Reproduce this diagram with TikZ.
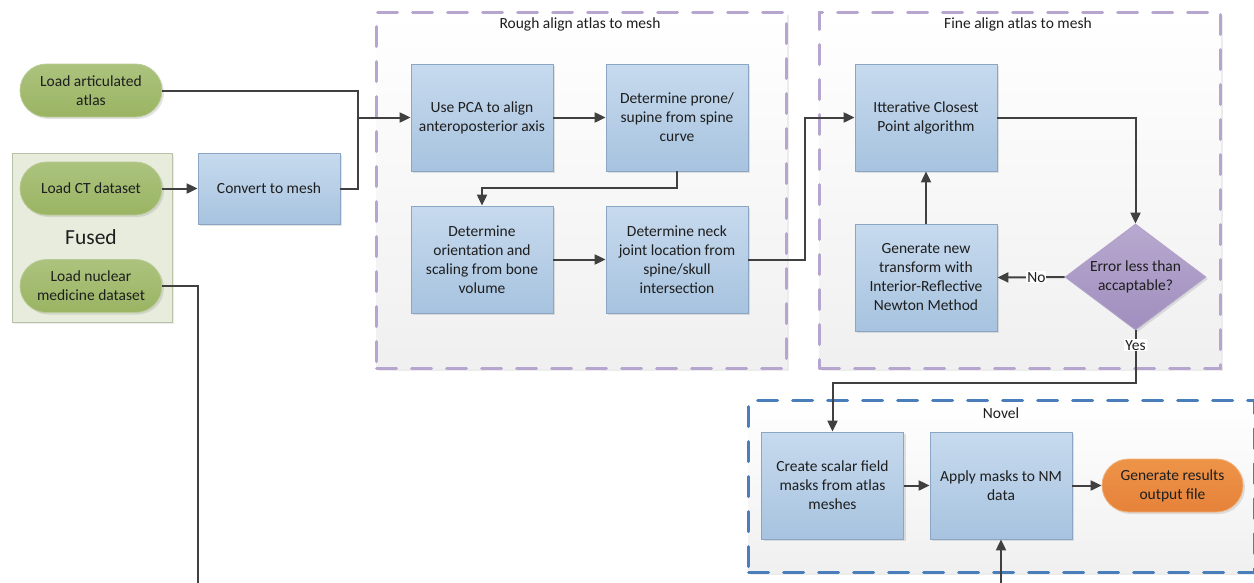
\documentclass[tikz,border=0pt]{standalone}
\usepackage{fontspec}
\setmainfont{Carlito}
\usetikzlibrary{shapes.geometric,shadows,arrows.meta}
\definecolor{lineC}{HTML}{404040}
\definecolor{txtC}{HTML}{1E1E1E}
\definecolor{blueT}{HTML}{C7DAEE}
\definecolor{blueB}{HTML}{A7C3DF}
\definecolor{blueD}{HTML}{8AA6C4}
\definecolor{greenT}{HTML}{ABC37D}
\definecolor{greenB}{HTML}{9AB463}
\definecolor{greenD}{HTML}{B9CB95}
\definecolor{orangeT}{HTML}{ED9448}
\definecolor{orangeB}{HTML}{E6823A}
\definecolor{orangeD}{HTML}{F2B27A}
\definecolor{purpT}{HTML}{B7A9CF}
\definecolor{purpB}{HTML}{A08EBE}
\definecolor{purpD}{HTML}{B3A2CB}
\definecolor{dashP}{HTML}{B6A6CF}
\definecolor{novelD}{HTML}{4A7EBB}
\definecolor{fusedF}{HTML}{E8ECDD}
\definecolor{fusedD}{HTML}{B9C2A6}
\begin{document}
\begin{tikzpicture}[x=1pt,y=-1pt,
  every node/.style={font=\fontsize{15.5}{19}\selectfont, text=txtC},
  shade/.style={drop shadow={opacity=0.22,shadow xshift=2pt,shadow yshift=-2pt}},
  procbox/.style={draw=blueD, line width=0.8pt, top color=blueT, bottom color=blueB,
    minimum width=142pt, minimum height=107pt, inner sep=0pt, align=center, shade},
  termG/.style={draw=greenD, line width=0.8pt, top color=greenT, bottom color=greenB,
    rounded corners=26.5pt, minimum width=142pt, minimum height=53pt, inner sep=0pt, align=center, shade},
  termO/.style={draw=orangeD, line width=0.8pt, top color=orangeT, bottom color=orangeB,
    rounded corners=26.5pt, minimum width=141pt, minimum height=53pt, inner sep=0pt, align=center, shade},
  diam/.style={diamond, draw=purpD, line width=0.8pt, top color=purpT, bottom color=purpB,
    minimum width=141pt, minimum height=106pt, inner sep=0pt, aspect=1.33, shade},
  grp/.style={line width=3pt, line cap=round, dash pattern=on 20pt off 15pt, top color=white, bottom color=black!6,
    anchor=north west, inner sep=0pt, drop shadow={opacity=0.15,shadow xshift=2pt,shadow yshift=-2pt}},
  gtitle/.style={font=\fontsize{15.5}{19}\selectfont},
  conn/.style={draw=lineC, line width=2pt, -{Triangle[length=11pt,width=10pt]}},
  plain/.style={draw=lineC, line width=2pt},
  lbl/.style={fill=white, inner sep=1pt, font=\fontsize{15.5}{19}\selectfont}
]
\useasboundingbox (0,0) rectangle (1254,582);
\clip (0,0) rectangle (1254,582);

% group backgrounds
\node[grp, draw=dashP, minimum width=410pt, minimum height=356pt] (rough) at (375,11) {};
\node[grp, draw=dashP, minimum width=401pt, minimum height=356pt] (fine) at (818,11) {};
\node[grp, draw=novelD, minimum width=506pt, minimum height=172pt] (novel) at (747,399) {};
\node[draw=fusedD, fill=fusedF, line width=0.8pt, anchor=north west, inner sep=0pt,
  minimum width=160pt, minimum height=169pt, drop shadow={opacity=0.15,shadow xshift=2pt,shadow yshift=-2pt}] (fused) at (12,153) {};

\node[gtitle] (roughT) at (580,24) {Rough align atlas to mesh};
\node[gtitle] (fineT) at (1018,24) {Fine align atlas to mesh};
\node[gtitle] (novelT) at (1001,413) {Novel};
\node[font=\fontsize{21.5}{24}\selectfont] (fusedT) at (91,237) {Fused};

% nodes
\node[termG] (atlas) at (91,90.5) {Load articulated\\atlas};
\node[termG] (ct) at (91,188.5) {Load CT dataset};
\node[termG] (nuc) at (91,286) {Load nuclear\\medicine dataset};
\node[procbox, minimum height=71pt] (conv) at (269,188.5) {Convert to mesh};

\node[procbox] (pca) at (482,117.5) {Use PCA to align\\anteroposterior axis};
\node[procbox] (prone) at (677,117.5) {Determine prone/\\supine from spine\\curve};
\node[procbox] (orient) at (482,259.5) {Determine\\orientation and\\scaling from bone\\volume};
\node[procbox] (neck) at (677,259.5) {Determine neck\\joint location from\\spine/skull\\intersection};

\node[procbox] (icp) at (926,117.5) {Itterative Closest\\Point algorithm};
\node[procbox] (gen) at (926,277.5) {Generate new\\transform with\\Interior-Reflective\\Newton Method};
\node[diam] (dia) at (1135.5,277) {};
\node[align=center] (diaT) at (1135.5,277) {Error less than\\accaptable?};

\node[procbox] (create) at (832.5,485.5) {Create scalar field\\masks from atlas\\meshes};
\node[procbox] (apply) at (1001,485.5) {Apply masks to NM\\data};
\node[termO] (res) at (1172.5,485.5) {Generate results\\output file};

% connectors
\coordinate (j1) at (358,117.5);
\draw[plain] (conv.east) -| (j1);
\draw[conn] (atlas.east) -| (j1) -- (pca.west);
\draw[conn] (ct.east) -- (conv.west);
\draw[conn] (pca.east) -- (prone.west);
\draw[conn] (prone.south) -- ++(0,17) -| (orient.north);
\draw[conn] (orient.east) -- (neck.west);
\draw[conn] (neck.east) -- ++(57,0) |- (icp.west);
\draw[conn] (icp.east) -| (dia.north);
\draw[conn] (dia.west) -- node[lbl, pos=0.42] (noL) {No} (gen.east);
\draw[conn] (gen.north) -- (icp.south);
\draw[conn] (dia.south) -- node[lbl, pos=0.28] (yesL) {Yes} ++(0,53) -| (create.north);
\draw[conn] (create.east) -- (apply.west);
\draw[conn] (apply.east) -- (res.west);
\coordinate (b1) at (198,700);
\coordinate (b2) at (1001,700);
\draw[conn] (nuc.east) -| (b1) -- (b2) -- (apply.south);
\end{tikzpicture}
\end{document}
